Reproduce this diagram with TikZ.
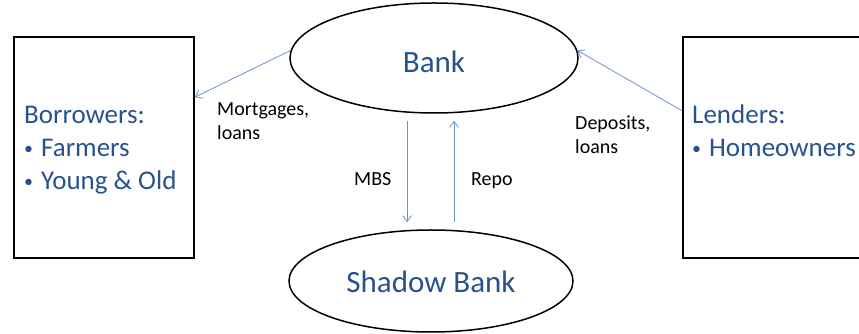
\documentclass[tikz,border=0pt]{standalone}
\usepackage{fontspec}
\setmainfont{Carlito}
\usetikzlibrary{shapes.geometric,arrows.meta}
\definecolor{inkblue}{RGB}{40,82,142}
\definecolor{flowblue}{RGB}{105,148,206}
\newcommand{\itembul}{{\fontsize{18}{18}\selectfont\raisebox{2pt}{\textbullet}}\hspace{8pt}}
\tikzset{
  party/.style={shape=rectangle,draw=black,line width=1.6pt,minimum width=180pt,minimum height=221pt},
  inst/.style={shape=ellipse,draw=black,line width=1.5pt,text=inkblue,font=\fontsize{31}{36}\selectfont},
  flow/.style={-{Straight Barb[length=6pt,width=9pt]},draw=flowblue,line width=0.8pt},
  lbl/.style={anchor=base west,inner sep=0pt,align=left,font=\fontsize{20}{24}\selectfont},
  who/.style={anchor=base west,inner sep=0pt,align=left,text=inkblue,font=\fontsize{27}{33}\selectfont}
}
\begin{document}
\begin{tikzpicture}[x=1pt,y=1pt]
\useasboundingbox (0,0) rectangle (859,334);
\node[party] (borrowers) at (104,186.5) {};
\node[party] (lenders) at (773,186.5) {};
\node[inst,minimum width=288pt,minimum height=110pt,text height=29pt,text depth=0pt] (bank) at (434,276) {Bank};
\node[inst,minimum width=284pt,minimum height=102pt,text height=24pt,text depth=0pt] (shadow) at (431,53) {Shadow Bank};

% last line sits on the anchor
\node[who] (btext) at (24,144) {Borrowers:\\\itembul Farmers\\\itembul Young \& Old};
\node[who] (ltext) at (692,177) {Lenders:\\\itembul Homeowners};

\path (bank.177) edge[flow] node {} (borrowers.29);
\path (lenders.158.5) edge[flow] node {} (bank.3);
\path ([xshift=-27pt]bank.south) edge[flow,shorten <=7pt,shorten >=7pt] node {} ([xshift=-27pt]bank.south |- shadow.north);
\path ([xshift=20pt]bank.south |- shadow.north) edge[flow,shorten <=7pt,shorten >=7pt] node {} ([xshift=20pt]bank.south);

\node[lbl] (mortgages) at (217,194) {Mortgages,\\loans};
\node[lbl] (deposits) at (575,180) {Deposits,\\loans};
\node[lbl] (mbs) at (354,148) {MBS};
\node[lbl] (repo) at (471,148) {Repo};
\end{tikzpicture}
\end{document}
